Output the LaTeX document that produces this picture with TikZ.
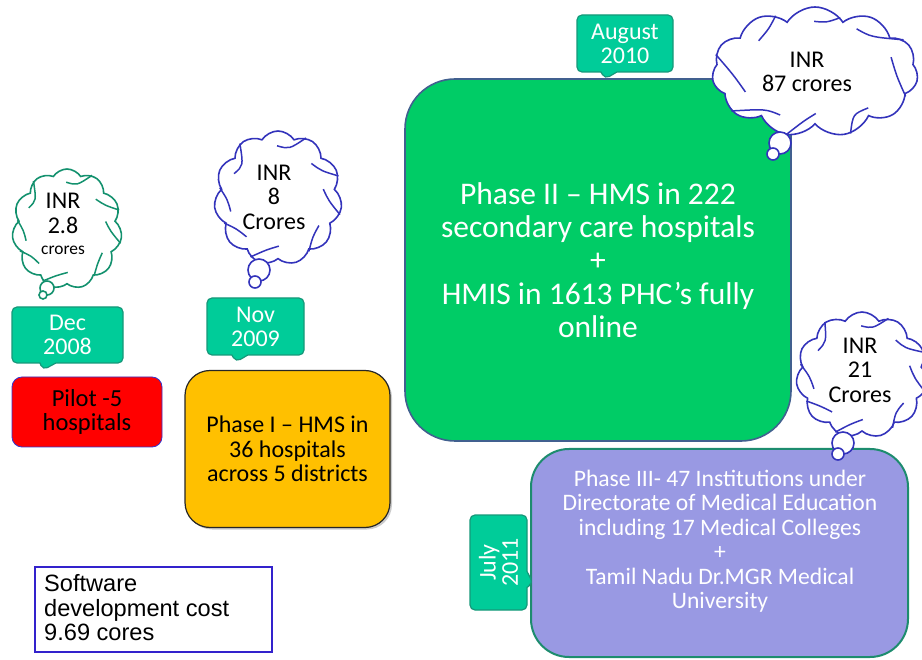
\documentclass[tikz,border=0pt]{standalone}
\usepackage{fontspec}
\setmainfont{Carlito}
\newfontfamily\arialf{Liberation Sans}
\usetikzlibrary{shapes.symbols,shapes.callouts,shadows,calc}
\definecolor{callfill}{HTML}{00CC99}
\definecolor{calldraw}{HTML}{16987A}
\definecolor{cloudblue}{HTML}{3333BB}
\definecolor{cloudgreen}{HTML}{13916E}
\definecolor{phtwo}{HTML}{00CC66}
\definecolor{phtwodraw}{HTML}{41608F}
\definecolor{phthree}{HTML}{9999E3}
\definecolor{phthreedraw}{HTML}{1D8C6E}
\definecolor{phone}{HTML}{FFC000}
\definecolor{pilotdraw}{HTML}{3333CC}
\definecolor{swdraw}{HTML}{3322CC}
\newcommand{\mycloudcurls}[2]{%
  \foreach \a in {20,65,125,170,205,245,300,345}{%
    \pgfmathtruncatemacro{\b}{\a+12}%
    \pgfmathtruncatemacro{\c}{\a+26}%
    \draw[#2, line width=1.5pt] (#1.\a) .. controls ($(#1.center)!0.79!(#1.\b)$) .. ($(#1.center)!0.77!(#1.\c)$);
  }}
\begin{document}
\begin{tikzpicture}[x=1pt,y=-1pt]
\useasboundingbox (0,0) rectangle (922,660);
\tikzset{
  datecall/.style={rectangle callout, fill=callfill, draw=calldraw, line width=1.2pt,
    rounded corners=5pt, text=white, font=\fontsize{24}{24}\selectfont, align=center,
    inner sep=0pt, callout pointer width=16pt},
  cloudbox/.style={cloud, cloud puffs=11, cloud puff arc=115, aspect=1, draw,
    line width=1.6pt, fill=white, inner sep=0pt},
  bubble/.style={draw, line width=1.6pt, fill=white, circle, inner sep=0pt},
  cloudtxt/.style={align=center, font=\fontsize{24}{24.5}\selectfont, text=black},
  phasebox/.style={rectangle, align=center, inner sep=0pt},
}
% Phase II
\node[phasebox, fill=phtwo, draw=phtwodraw, line width=1.6pt, rounded corners=50pt,
  minimum width=386pt, minimum height=362pt, text=white,
  font=\fontsize{31.5}{33.3}\selectfont] (ph2) at (598,260)
  {Phase II -- HMS in 222\\secondary care hospitals\\+\\HMIS in 1613 PHC’s fully\\online};
% Phase III
\node[phasebox, fill=phthree, draw=phthreedraw, line width=2pt, rounded corners=38pt,
  minimum width=377pt, minimum height=208pt] (ph3) at (719.5,553) {};
\node[cloudtxt, text=white, font=\fontsize{23.6}{24.5}\selectfont] (ph3txt) at (720,541)
  {Phase III- 47 Institutions under\\Directorate of Medical Education\\including 17 Medical Colleges\\+\\Tamil Nadu Dr.MGR Medical\\University};
% Pilot
\node[phasebox, fill=red, draw=pilotdraw, line width=0.8pt, rounded corners=10pt,
  minimum width=150pt, minimum height=70pt, font=\fontsize{24.5}{24.5}\selectfont]
  (pilot) at (87,412) {Pilot -5\\hospitals};
% Phase I
\node[phasebox, fill=phone, draw=black!85, line width=1.2pt, rounded corners=25pt,
  minimum width=205pt, minimum height=157pt, font=\fontsize{24}{24.5}\selectfont,
  drop shadow={shadow xshift=2pt, shadow yshift=-2pt, opacity=0.4}]
  (ph1) at (287.5,449) {Phase I -- HMS in\\36 hospitals\\across 5 districts};
% date callouts
\node[datecall, minimum width=111pt, minimum height=56pt,
  callout absolute pointer={(43,370)}] (dec) at (67.5,335) {Dec\\2008};
\node[datecall, minimum width=97pt, minimum height=57pt,
  callout absolute pointer={(236,362)}] (nov) at (255.5,326.5) {Nov\\2009};
\node[datecall, minimum width=96pt, minimum height=57pt,
  callout absolute pointer={(605,79)}] (aug) at (625,43.5) {August\\2010};
\node[datecall, minimum width=57pt, minimum height=95pt,
  callout absolute pointer={(533,583)}] (jul) at (498.5,562.5)
  {\rotatebox{90}{\shortstack{July\\2011}}};
% clouds
\node[cloudbox, draw=cloudgreen, minimum width=110pt, minimum height=120pt] (c1) at (67,229) {};
\mycloudcurls{c1}{cloudgreen}
\node[bubble, draw=cloudgreen, minimum size=14pt] (c1b1) at (47,288) {};
\node[bubble, draw=cloudgreen, minimum size=8pt] (c1b2) at (43,295) {};
\node[cloudtxt] (c1t) at (63,224) {INR\\2.8\\[-3pt]{\fontsize{17.4}{18}\selectfont crores}};

\node[cloudbox, draw=cloudblue, minimum width=128pt, minimum height=134pt] (c2) at (278,198) {};
\mycloudcurls{c2}{cloudblue}
\node[bubble, draw=cloudblue, minimum size=22pt] (c2b1) at (259,270) {};
\node[bubble, draw=cloudblue, minimum size=12pt] (c2b2) at (255,282) {};
\node[cloudtxt] (c2t) at (274,197) {INR\\8\\Crores};

\node[cloudbox, draw=cloudblue, minimum width=206pt, minimum height=130pt] (c3) at (815,72) {};
\mycloudcurls{c3}{cloudblue}
\node[bubble, draw=cloudblue, minimum size=22pt] (c3b1) at (780,143) {};
\node[bubble, draw=cloudblue, minimum size=12pt] (c3b2) at (773,154) {};
\node[cloudtxt] (c3t) at (807,72) {INR\\87 crores};

\node[cloudbox, draw=cloudblue, minimum width=132pt, minimum height=126pt] (c4) at (862,375) {};
\mycloudcurls{c4}{cloudblue}
\node[bubble, draw=cloudblue, minimum size=22pt] (c4b1) at (843,443) {};
\node[bubble, draw=cloudblue, minimum size=12pt] (c4b2) at (838,454) {};
\node[cloudtxt] (c4t) at (860,370) {INR\\21\\Crores};
% software cost
\node[rectangle, draw=swdraw, line width=1.2pt, minimum width=237pt, minimum height=85pt]
  (sw) at (153.5,609.5) {};
\node[align=left, anchor=west, inner sep=0pt, font=\arialf\fontsize{23.6}{24.5}\selectfont]
  (swt) at (44,608) {Software\\development cost\\9.69 cores};
\end{tikzpicture}
\end{document}
